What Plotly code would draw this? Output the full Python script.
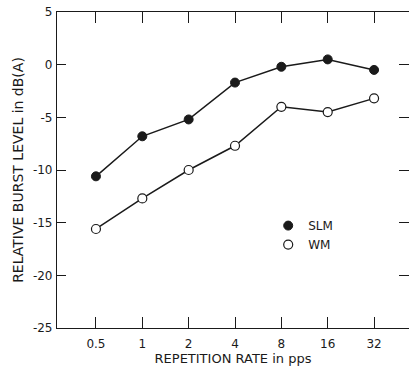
import plotly.graph_objects as go

# Repetition rate (pulses per second) and relative burst level in dB(A)
rates = [0.5, 1, 2, 4, 8, 16, 32]
rate_labels = ["0.5", "1", "2", "4", "8", "16", "32"]
slm = [-10.6, -6.8, -5.2, -1.7, -0.2, 0.5, -0.5]
wm = [-15.6, -12.7, -10.0, -7.7, -4.0, -4.5, -3.2]
y_ticks = [5, 0, -5, -10, -15, -20, -25]
y_tick_labels = ["5", "0", "-5", "-10", "-15", "-20", "-25"]

FONT = "DejaVu Sans"
INK = "#1a1a1a"

filled = dict(symbol="circle", size=9, color=INK, line=dict(color=INK, width=1))
hollow = dict(symbol="circle", size=9, color="white", line=dict(color=INK, width=1.2))

fig = go.Figure()
fig.add_trace(go.Scatter(x=rates, y=slm, name="SLM", mode="lines+markers",
                         line=dict(color=INK, width=1.5), marker=filled,
                         showlegend=False))
fig.add_trace(go.Scatter(x=rates, y=wm, name="WM", mode="lines+markers",
                         line=dict(color=INK, width=1.5), marker=hollow,
                         showlegend=False))
# legend entries show the symbol only
fig.add_trace(go.Scatter(x=[None], y=[None], name="SLM", mode="markers", marker=filled))
fig.add_trace(go.Scatter(x=[None], y=[None], name="WM", mode="markers", marker=hollow))

fig.update_layout(
    width=409, height=372,
    margin=dict(l=57, r=0, t=12, b=44),
    paper_bgcolor="white", plot_bgcolor="white",
    font=dict(family=FONT, size=12, color=INK),
    legend=dict(
        x=0.6, y=0.37, xanchor="left", yanchor="top",
        bgcolor="rgba(0,0,0,0)", font=dict(size=12),
        itemwidth=30, tracegroupgap=0,
    ),
    xaxis=dict(
        type="log", range=[-0.554, 1.732],
        tickvals=rates, ticktext=rate_labels,
        ticks="inside", ticklen=11, tickwidth=1.2, tickcolor=INK,
        ticklabelstandoff=4,
        showline=True, linecolor=INK, linewidth=1.2, mirror="ticks",
        showgrid=False, zeroline=False,
        title=dict(text="REPETITION RATE in pps", font=dict(size=13), standoff=4),
    ),
    yaxis=dict(
        range=[-25, 5],
        tickvals=y_ticks, ticktext=y_tick_labels,
        ticks="inside", ticklen=9, tickwidth=1.2, tickcolor=INK,
        ticklabelstandoff=1,
        showline=True, linecolor=INK, linewidth=1.2, mirror=False,
        showgrid=False, zeroline=False,
        title=dict(text="RELATIVE BURST LEVEL in dB(A)", font=dict(size=14), standoff=5),
    ),
    yaxis2=dict(
        range=[-25, 5], overlaying="y", side="right", anchor="x",
        tickvals=y_ticks, showticklabels=False,
        ticks="inside", ticklen=10, tickwidth=1.2, tickcolor=INK,
        showline=False, showgrid=False, zeroline=False,
    ),
)

# invisible trace so the right-hand tick axis is laid out
fig.add_trace(go.Scatter(x=[rates[0]], y=[y_ticks[0]], yaxis="y2",
                         mode="markers", marker=dict(opacity=0),
                         showlegend=False, hoverinfo="skip"))

fig.write_html("out.html")
